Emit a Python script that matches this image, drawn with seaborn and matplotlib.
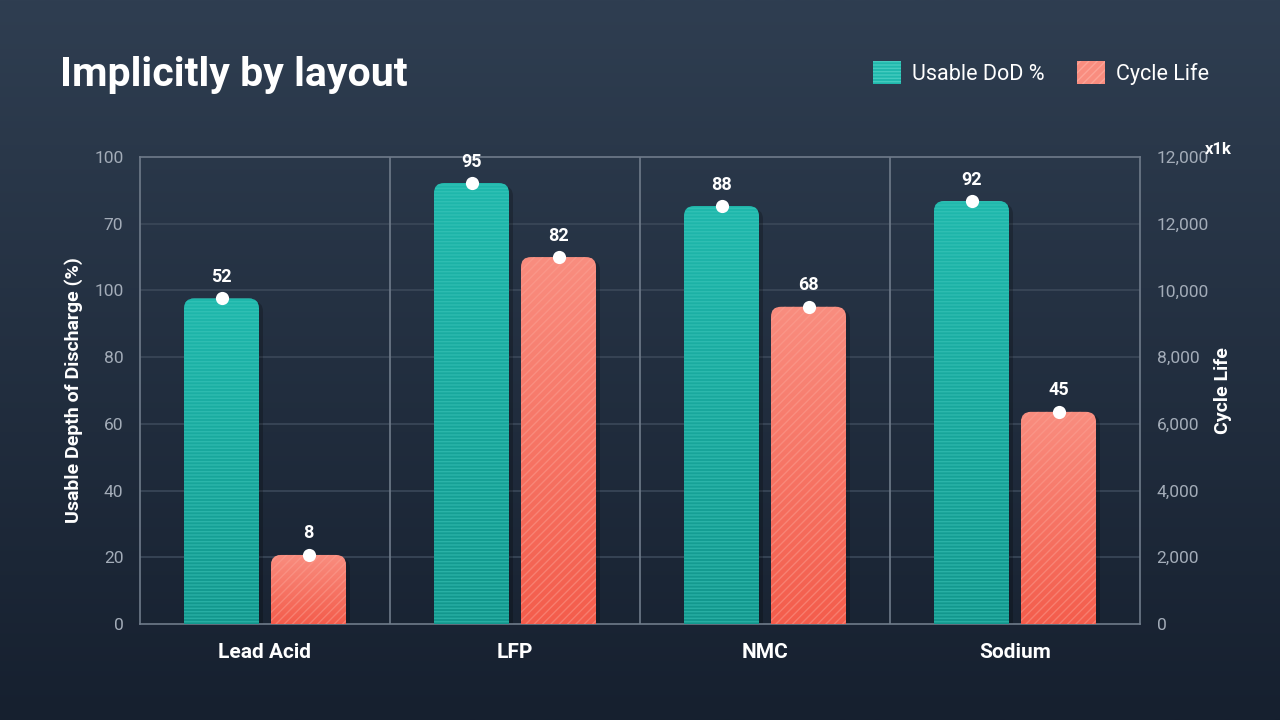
import numpy as np
import pandas as pd
import matplotlib
matplotlib.use("Agg")
import matplotlib.pyplot as plt
from matplotlib.patches import FancyBboxPatch, Patch
from matplotlib.colors import LinearSegmentedColormap
import seaborn as sns

# --- data ---
categories = ["Lead Acid", "LFP", "NMC", "Sodium"]
dod_labels = [52, 95, 88, 92]           # printed value labels, teal
cycle_labels = [8, 82, 68, 45]          # printed value labels, salmon
dod_heights = [97.6, 132.2, 125.3, 126.8]      # bar tops on the left scale
cycle_heights = [2070, 11000, 9510, 6360]      # bar tops on the right scale
left_ticks = ["0", "20", "40", "60", "80", "100", "70", "100"]
right_ticks = ["0", "2,000", "4,000", "6,000", "8,000", "10,000", "12,000", "12,000"]
series = ["Usable DoD %", "Cycle Life"]

TEAL_TOP, TEAL_BOT, TEAL_HATCH = "#1fb8ac", "#12978d", "#45cbbf"
SAL_TOP, SAL_BOT, SAL_HATCH = "#f98d7f", "#f45d4c", "#fca497"
GRID = "#3b4859"
FRAME = "#6f7b8a"
TICK = "#a3acb8"

sns.set_style("dark")
plt.rcParams["font.family"] = ["Roboto", "DejaVu Sans"]

RATIO = 100.0  # right axis units per left axis unit
df = pd.DataFrame({
    "chem": categories * 2,
    "series": [series[0]] * 4 + [series[1]] * 4,
    "height": dod_heights + [h / RATIO for h in cycle_heights],
})

fig = plt.figure(figsize=(12.8, 7.2), dpi=100)

# background gradient
bg = fig.add_axes([0, 0, 1, 1], zorder=-10)
bg_cmap = LinearSegmentedColormap.from_list("bg", ["#2f3e51", "#16202f"])
bg.imshow(np.linspace(0, 1, 256).reshape(-1, 1), aspect="auto", cmap=bg_cmap,
          extent=[0, 1, 0, 1])
bg.set_axis_off()

ax = fig.add_axes([140 / 1280, 96 / 720, 1000 / 1280, 467 / 720])
ax.set_facecolor("none")
sns.barplot(data=df, x="chem", y="height", hue="series", ax=ax,
            width=0.696, gap=0.138, legend=False,
            palette=[TEAL_TOP, SAL_TOP])
ax.set_xlim(-0.5, 3.5)
ax.set_ylim(0, 140)

# x/y pixel scale for round corners
px_x = 1000 / 4.0
px_y = 467 / 140.0
aspect = px_x / px_y
r = 10 / px_x

styles = [(TEAL_TOP, TEAL_BOT, TEAL_HATCH, "-----"),
          (SAL_TOP, SAL_BOT, SAL_HATCH, "////")]
labels_all = [dod_labels, cycle_labels]
for ci, cont in enumerate(ax.containers):
    top_c, bot_c, hatch_c, hatch = styles[ci]
    cmap = LinearSegmentedColormap.from_list("g%d" % ci, [bot_c, top_c])
    for bi, bar in enumerate(cont):
        x0, w, h = bar.get_x(), bar.get_width(), bar.get_height()
        bar.set_visible(False)
        # shadow
        sh = FancyBboxPatch((x0 + 4 / px_x, -5), w, h + 5 - 3 / px_y,
                            boxstyle="round,pad=0,rounding_size=%f" % r,
                            mutation_aspect=aspect, facecolor="black",
                            alpha=0.22, lw=0, zorder=2)
        ax.add_patch(sh)
        shape = FancyBboxPatch((x0, -5), w, h + 5,
                               boxstyle="round,pad=0,rounding_size=%f" % r,
                               mutation_aspect=aspect, facecolor="none",
                               lw=0, zorder=3)
        ax.add_patch(shape)
        im = ax.imshow(np.linspace(0, 1, 128).reshape(-1, 1)[::-1], cmap=cmap,
                       aspect="auto", extent=[x0, x0 + w, 0, h], zorder=3)
        im.set_clip_path(shape)
        hp = FancyBboxPatch((x0, -5), w, h + 5,
                            boxstyle="round,pad=0,rounding_size=%f" % r,
                            mutation_aspect=aspect, facecolor="none",
                            edgecolor=hatch_c, hatch=hatch, lw=0,
                            alpha=0.45, zorder=4)
        ax.add_patch(hp)
        cx = x0 + w / 2
        ax.plot(cx, h, "o", color="white", markersize=9.5, zorder=6,
                markeredgewidth=0)
        ax.annotate(str(labels_all[ci][bi]), (cx, h), xytext=(0, 9),
                    textcoords="offset points", ha="center", va="bottom",
                    color="white", fontsize=13, fontweight="bold", zorder=7)

ax.set_xlim(-0.5, 3.5)
ax.set_ylim(0, 140)

# grid and frame
ax.set_yticks(np.arange(0, 141, 20))
ax.set_yticklabels(left_ticks)
ax.grid(False)
for yv in np.arange(20, 140, 20):
    ax.axhline(yv, color=GRID, lw=1.2, zorder=1)
for xv in [0.5, 1.5, 2.5]:
    ax.axvline(xv, color=FRAME, lw=1.2, zorder=1)
for sp in ax.spines.values():
    sp.set_visible(True)
    sp.set_color(FRAME)
    sp.set_linewidth(1.2)

ax.tick_params(axis="y", colors=TICK, labelsize=12.5, length=0, pad=12)
ax.tick_params(axis="x", length=0, pad=14)
for t in ax.get_xticklabels():
    t.set_color("white")
    t.set_fontsize(15)
    t.set_fontweight("bold")
ax.set_xlabel("")
ax.set_ylabel("Usable Depth of Discharge (%)", color="white", fontsize=14,
              fontweight="bold", labelpad=8)

ax2 = ax.twinx()
ax2.set_ylim(0, 140 * RATIO)
ax2.set_yticks(np.arange(0, 14001, 2000))
ax2.set_yticklabels(right_ticks)
ax2.tick_params(axis="y", colors=TICK, labelsize=12.5, length=0, pad=12)
for sp in ax2.spines.values():
    sp.set_visible(False)
ax2.grid(False)
ax2.set_ylabel("Cycle Life", color="white", fontsize=14, fontweight="bold",
               labelpad=4)
ax2.text(1.065, 1.0, "x1k", transform=ax.transAxes, color="white",
         fontsize=12, fontweight="bold", ha="left", va="bottom")

fig.text(60 / 1280, 1 - 75 / 720, "Implicitly by layout", color="white",
         fontsize=29.5, fontweight="bold", ha="left", va="center")

handles = [Patch(facecolor=TEAL_TOP, edgecolor=TEAL_HATCH, hatch="-----", lw=0),
           Patch(facecolor=SAL_TOP, edgecolor=SAL_HATCH, hatch="////", lw=0)]
fig.legend(handles, series, loc="center right",
           bbox_to_anchor=(1228 / 1280, 1 - 73 / 720), ncol=2, frameon=False,
           fontsize=15.5, handlelength=1.3, handleheight=1.3,
           handletextpad=0.5, columnspacing=1.5, labelcolor="white")

fig.savefig("out.png", dpi=100)
